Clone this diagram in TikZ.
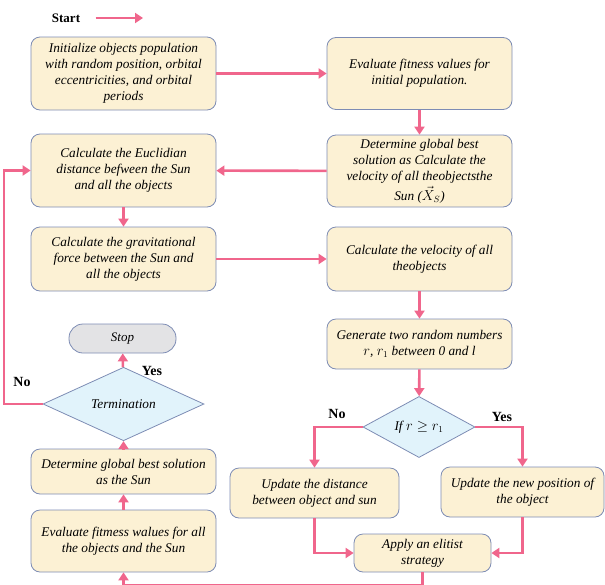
\documentclass[tikz,border=0pt]{standalone}
\usepackage{amsmath}
\usepackage{fontspec}
\setmainfont{Liberation Serif}
\usepackage{tikz}
\usetikzlibrary{positioning}
\usetikzlibrary{calc,arrows.meta}
\usetikzlibrary{shapes.geometric}

\definecolor{flowpink}{RGB}{240,102,140}
\definecolor{boxfill}{RGB}{252,241,212}
\definecolor{boxline}{RGB}{125,140,180}
\definecolor{decfill}{RGB}{225,243,251}
\definecolor{stopfill}{RGB}{227,227,229}

\begin{document}
\begin{tikzpicture}[x=1pt,y=-1pt]
    % Define the styles of the flow chart
    \tikzset{
        process/.style={draw=boxline, fill=boxfill, line width=0.8pt, rounded corners=9pt,
            align=center, inner sep=0pt, minimum width=185pt,
            font=\fontsize{13.3}{16}\selectfont\itshape},
        decision/.style={diamond, draw=boxline, fill=decfill, line width=0.8pt, inner sep=0pt,
            font=\fontsize{13.3}{16}\selectfont\itshape},
        flow/.style={draw=flowpink, line width=2.6pt, -{Triangle[length=8pt, width=10pt]}},
        link/.style={draw=flowpink, line width=2.6pt},
        answer/.style={font=\fontsize{14}{16}\selectfont\bfseries}
    }
    \useasboundingbox (0,0) rectangle (605,584);

    % Start
    \node[font=\fontsize{13}{15}\selectfont\bfseries] (start) at (66,18) {Start};
    \coordinate (startend) at (143,18);
    \draw[flow] ([xshift=12pt]start.east) -- (startend);

    % Left column
    \node[process, minimum height=73pt] (init) at (123.5,73.5)
        {Initialize objects population\\ with random position, orbital\\ eccentricities, and orbital\\ periods};
    \node[process, minimum height=73pt] (eucl) at (123.5,170.5)
        {Calculate the Euclidian\\ distance befween the Sun\\ and all the objects};
    \node[process, minimum height=64pt] (grav) at (123.5,259)
        {Calculate the gravitational\\ force between the Sun and\\ all the objects};
    \node[draw=boxline, fill=stopfill, line width=0.8pt, rounded corners=14pt,
        minimum width=107pt, minimum height=29pt, font=\fontsize{13}{15}\selectfont\itshape] (stop) at (122.5,338.5) {Stop};
    \node[decision, minimum width=161pt, minimum height=62pt] (term) at (123.5,404) {Termination};
    \node[process, minimum height=45pt] (detbest) at (123.5,471.5)
        {Determine global best solution\\ as the Sun};
    \node[process, minimum height=62pt] (evalall) at (123.5,541)
        {Evaluate fitmess walues for all\\ the objects and the Sun};

    % Right column
    \node[process, minimum height=72pt] (evalinit) at (419.5,73.5)
        {Evaluate fitness values for\\ initial population.};
    \node[process, minimum height=72pt] (detsun) at (419.5,171)
        {Determine global best\\ solution as Calculate the\\ velocity of all theobjectsthe\\[2pt] Sun ($\vec{X}_S$)};
    \node[process, minimum height=64pt] (velo) at (419.5,259)
        {Calculate the velocity of all\\ theobjects};
    \node[process, minimum height=50pt] (rand) at (419.5,344)
        {Generate two random numbers\\ $r$, $r_1$ between 0 and l};
    \node[decision, minimum width=112pt, minimum height=60pt] (ifr) at (419,427) {If $r\geq r_1$};
    \node[process, minimum width=169pt, minimum height=50pt] (upddist) at (314.5,493)
        {Update the distance\\ between object and sun};
    \node[process, minimum width=163pt, minimum height=50pt] (updpos) at (522.5,492)
        {Update the new position of\\ the object};
    \node[process, minimum width=137pt, minimum height=38pt] (elit) at (422.5,553)
        {Apply an elitist\\ strategy};

    % Draw the connectors
    \draw[flow] (init) -- (evalinit);
    \draw[flow] (evalinit) -- (detsun);
    \draw[flow] (detsun) -- (eucl);
    \draw[flow] (eucl) -- (grav);
    \draw[flow] (grav) -- (velo);
    \draw[flow] (velo) -- (rand);
    \draw[flow] (rand) -- (ifr);
    \draw[flow] (ifr.west) -| (upddist.north);
    \draw[flow] (ifr.east) -| (updpos.north);
    \draw[flow] (upddist.south) |- (elit.west);
    \draw[flow] (updpos.south) |- (elit.east);

    % Draw the loop back at the bottom
    \coordinate (loopR) at (422.5,585);
    \coordinate (loopL) at (123.5,585);
    \draw[link] (elit.south) -- (loopR) -- (loopL);
    \draw[flow] (loopL) -- (evalall.south);
    \draw[flow] (evalall) -- (detbest);
    \draw[flow] (detbest) -- (term);
    \draw[flow] (term) -- (stop);

    % Draw the loop back to the distance box
    \coordinate (noturn) at (4,404);
    \draw[flow] (term.west) -- (noturn) |- (eucl.west);

    % Labels of the decisions
    \node[answer] (termyes) at (152,371) {Yes};
    \node[answer] (termno) at (22,382) {No};
    \node[answer] (ifno) at (337,414) {No};
    \node[answer] (ifyes) at (502,417) {Yes};
\end{tikzpicture}
\end{document}
